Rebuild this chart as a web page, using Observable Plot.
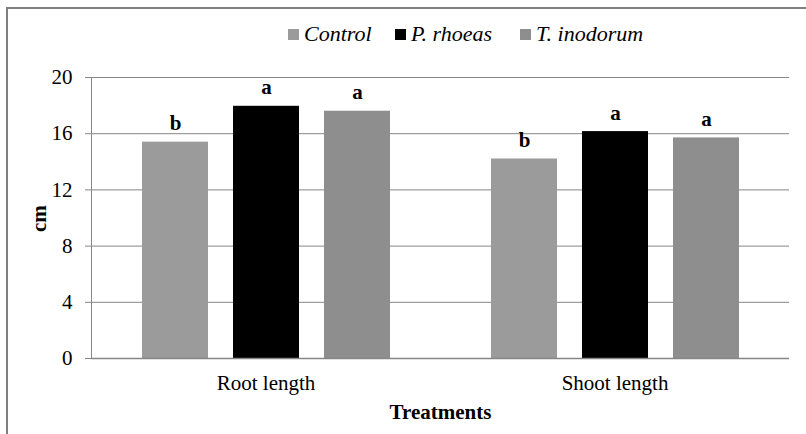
<!DOCTYPE html>
<html>
<head>
<meta charset="utf-8">
<script src="https://cdn.jsdelivr.net/npm/d3@7"></script>
<script src="https://cdn.jsdelivr.net/npm/@observablehq/plot@0.6"></script>
<style>
  html, body { margin: 0; padding: 0; background: #fff; }
  #wrap { position: relative; width: 806px; height: 434px; overflow: hidden; font-family: "Liberation Serif", serif; }
  #frame { position: absolute; left: 6px; top: 7px; width: 820px; height: 440px; border-left: 2px solid #7f7f7f; border-top: 2px solid #7f7f7f; pointer-events: none; }
  #legend { position: relative; height: 55px; }
  .item { position: absolute; top: 21px; display: flex; align-items: center; font-style: italic; font-size: 22px; line-height: 26px; color: #000; }
  .sw { width: 11px; height: 11px; margin-right: 5px; display: inline-block; }
  #chart svg g[aria-label="fx-axis label"] text { font-weight: bold; }
</style>
</head>
<body>
<div id="wrap">
  <div id="legend"></div>
  <div id="chart"></div>
  <div id="frame"></div>
</div>
<script>
const categories = ["Root length", "Shoot length"];
const series = ["Control", "P. rhoeas", "T. inodorum"];
const rootValues = [15.4, 17.95, 17.6];
const shootValues = [14.2, 16.15, 15.7];
const rootLetters = ["b", "a", "a"];
const shootLetters = ["b", "a", "a"];
const yTicks = [0, 4, 8, 12, 16, 20];
const yLabel = ["cm"];
const seriesColors = ["#9b9b9b", "#000000", "#8e8e8e"];
const legendLeft = [288, 395, 520];

const data = [];
series.forEach((s, i) => {
  data.push({category: categories[0], series: s, value: rootValues[i], letter: rootLetters[i]});
  data.push({category: categories[1], series: s, value: shootValues[i], letter: shootLetters[i]});
});

// legend
const legend = document.getElementById("legend");
series.forEach((s, i) => {
  const it = document.createElement("div");
  it.className = "item";
  it.style.left = legendLeft[i] + "px";
  const sw = document.createElement("span");
  sw.className = "sw";
  sw.style.background = seriesColors[i];
  it.appendChild(sw);
  it.appendChild(document.createTextNode(s));
  legend.appendChild(it);
});

const chart = Plot.plot({
  width: 806,
  height: 379,
  marginLeft: 91,
  marginRight: 17,
  marginTop: 22,
  marginBottom: 76,
  style: {fontFamily: "Liberation Serif", fontSize: "21px", color: "#000", background: "transparent", overflow: "visible"},
  fx: {domain: categories, padding: 0},
  x: {domain: series, paddingInner: 0.275, paddingOuter: 0.555, axis: null},
  y: {domain: [0, 20]},
  color: {domain: series, range: seriesColors},
  marks: [
    Plot.gridY(yTicks, {stroke: "#868686", strokeOpacity: 1}),
    Plot.barY(data, {fx: "category", x: "series", y: "value", fill: "series"}),
    Plot.text(data, {fx: "category", x: "series", y: "value", text: "letter", dy: -12, lineAnchor: "bottom", fontWeight: "bold", fontSize: 21}),
    Plot.ruleY([0], {stroke: "#868686", strokeWidth: 1.5}),
    Plot.frame({anchor: "left", stroke: "#868686", facet: "super"}),
    Plot.axisY({ticks: yTicks, tickSize: 6, tickPadding: 13, stroke: "#868686", label: null, fontSize: 21}),
    Plot.text(yLabel, {text: d => d, frameAnchor: "left", rotate: -90, dx: -52, dy: 14, fontWeight: "bold", fontSize: 21, facet: "super"}),
    Plot.axisFx({anchor: "bottom", tickSize: 0, tickPadding: 17, label: "Treatments", labelAnchor: "center", labelArrow: "none", labelOffset: 60, fontSize: 21})
  ]
});
document.getElementById("chart").appendChild(chart);
</script>
</body>
</html>
